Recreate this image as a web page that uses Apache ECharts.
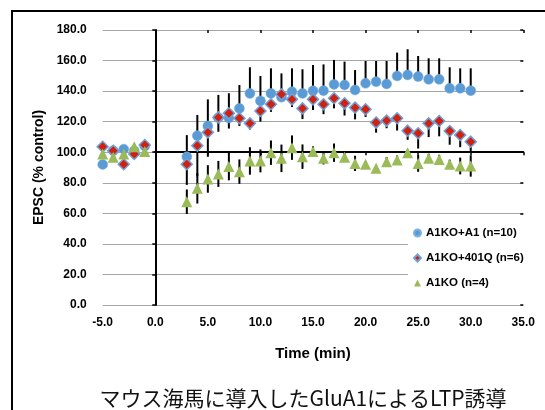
<!DOCTYPE html>
<html><head><meta charset="utf-8">
<script src="https://cdn.jsdelivr.net/npm/echarts@6/dist/echarts.min.js"></script>
<style>html,body{margin:0;padding:0;background:#fff}#c{width:545px;height:410px}</style>
</head><body><div id="c"></div>
<script>
// ---- data ----
const time = [-5,-4,-3,-2,-1,3,4,5,6,7,8,9,10,11,12,13,14,15,16,17,18,19,20,21,22,23,24,25,26,27,28,29,30];
const a1Values = [92,101,102,101,104, 97,110.8,117.2,122.6,122.4,128.7,138.5,133.6,138.5,136,139.6,138.5,140.2,140.3,144.4,144,140.7,145.1,146.2,144.7,149.9,150.6,149.5,147.7,147.7,141.8,141.8,140.3];
const a1ErrUp = [0,0,0,0,0, 14.2,13.6,17.4,14.9,16.2,15.3,17.1,16.3,16.4,15.6,15.3,15.8,16.9,17.2,16,15.3,13.1,14.6,13.5,15,15.3,16.8,13.5,13.8,13.8,13.8,13.1,14.6];
const q401Values = [103.6,101,92.1,98.8,104.7, 92.1,104.3,113,122.8,125.5,122.2,118.9,127,131.4,137.9,134.6,128.7,134.6,131.4,135.3,132,129.2,128.1,119.4,120.7,122.2,114.1,112.4,118.9,120.4,113.9,111.3,106.9];
const q401ErrDown = [0,0,0,0,0, 13.5,20,16,9.4,10,5,4,7,5,4,5,7,7,6.5,6.6,8,7.7,5,6.6,5,8,6,10,9,10,9,8,7];
const koValues = [98.8,96.7,98.8,103.6,100.4, 67.6,76.4,82.5,85.8,90.6,87.3,94.3,94.3,99.7,96,103,97.1,100.4,96,99.7,96.7,92.7,92.1,89.5,93.8,94.9,99.7,92.7,96,95.3,92.1,91,91];
const koErr = [0,0,0,0,0, 8,10,9,8.5,9,8,9,7.5,8,9,8,8,3.5,4,6,3,5,2,2,3,3,2,5.5,3,3,3,5.5,7];
const xTicks = {min:-5, max:35, interval:5};
const yTicks = {min:0, max:180, interval:20};
const seriesNames = ['A1KO+A1 (n=10)','A1KO+401Q (n=6)','A1KO (n=4)'];

// ---- layout ----
const W=545, H=410, gl=102.7, gr=21.7, gt=30, gb=105;
const plotW = W-gl-gr, plotH = H-gt-gb;
const x0px = gl + (0-xTicks.min)/(xTicks.max-xTicks.min)*plotW;
const y100px = gt + (yTicks.max-100)/(yTicks.max-yTicks.min)*plotH;

const font = '"Liberation Sans", Arial, sans-serif';
const pts = (vals) => time.map((t,i)=>[t, vals[i]]);
const errData = (lo, hi) => time.map((t,i)=>[t, lo[i], hi[i]]).filter(d=>d[2]-d[1]>0);
const a1Err = errData(a1Values, a1Values.map((v,i)=>v+a1ErrUp[i]));
const qErr = errData(q401Values.map((v,i)=>v-q401ErrDown[i]), q401Values);
const kErr = errData(koValues.map((v,i)=>v-koErr[i]), koValues.map((v,i)=>v+koErr[i]));

function errRender(params, api){
  const x=api.value(0), lo=api.value(1), hi=api.value(2);
  const p1=api.coord([x,lo]), p2=api.coord([x,hi]);
  return {type:'line', shape:{x1:p1[0],y1:p1[1],x2:p2[0],y2:p2[1]}, style:{stroke:'#000', lineWidth:2}};
}
const lineStyle = {color:'#000', width:2};
const tickStyle = {color:'#000', width:1.5};

const chart = echarts.init(document.getElementById('c'), null, {renderer:'canvas'});
chart.setOption({
  animation:false,
  backgroundColor:'#fff',
  title:{text:'マウス海馬に導入したGluA1によるLTP誘導', left:298, top:383, textAlign:'center',
    textStyle:{fontFamily:'"Noto Sans CJK JP", sans-serif', fontSize:21, fontWeight:'normal', color:'#111'}},
  graphic:[{type:'rect', shape:{x:12, y:11, width:600, height:500}, style:{fill:null, stroke:'#000', lineWidth:2}, z:-1}],
  grid:[
    {left:gl, right:gr, top:gt, bottom:gb},
    {left:x0px, right:gr, top:gt, bottom:gb},
    {left:x0px, right:gr, top:gt, bottom:H-y100px}
  ],
  xAxis:[
    {gridIndex:0, type:'value', min:xTicks.min, max:xTicks.max, interval:xTicks.interval,
      axisLine:{show:false, onZero:false}, axisTick:{show:false}, splitLine:{show:false},
      axisLabel:{margin:12, fontFamily:font, fontWeight:'bold', fontSize:12, color:'#000', formatter:v=>v.toFixed(1)},
      name:'Time (min)', nameLocation:'middle', nameGap:41,
      nameTextStyle:{fontFamily:font, fontWeight:'bold', fontSize:15, color:'#000'}},
    {gridIndex:1, type:'value', min:0, max:35, show:false},
    {gridIndex:2, type:'value', min:0, max:xTicks.max, interval:xTicks.interval,
      axisLine:{show:true, onZero:false, lineStyle:lineStyle}, axisTick:{show:true, length:3, lineStyle:tickStyle},
      axisLabel:{show:false}, splitLine:{show:false}},
    {gridIndex:2, type:'value', min:0, max:xTicks.max, interval:xTicks.interval,
      axisLine:{show:false, onZero:false}, axisTick:{show:true, inside:true, length:3, lineStyle:tickStyle},
      axisLabel:{show:false}, splitLine:{show:false}}
  ],
  yAxis:[
    {gridIndex:0, type:'value', min:yTicks.min, max:yTicks.max, interval:yTicks.interval,
      axisLine:{show:false, onZero:false}, axisTick:{show:false},
      splitLine:{show:true, lineStyle:{color:'#a6a6a6', width:1}},
      axisLabel:{margin:16, fontFamily:font, fontWeight:'bold', fontSize:12, color:'#000', formatter:v=>v.toFixed(1)},
      name:'EPSC (% control)', nameLocation:'middle', nameGap:48,
      nameTextStyle:{fontFamily:font, fontWeight:'bold', fontSize:14, color:'#000'}},
    {gridIndex:1, type:'value', min:yTicks.min, max:yTicks.max, interval:yTicks.interval,
      axisLine:{show:true, onZero:false, lineStyle:lineStyle}, axisTick:{show:true, length:3, lineStyle:tickStyle},
      axisLabel:{show:false}, splitLine:{show:false}},
    {gridIndex:1, type:'value', min:yTicks.min, max:yTicks.max, interval:yTicks.interval,
      axisLine:{show:false, onZero:false}, axisTick:{show:true, inside:true, length:3, lineStyle:tickStyle},
      axisLabel:{show:false}, splitLine:{show:false}},
    {gridIndex:2, type:'value', min:0, max:1, show:false}
  ],
  legend:{
    orient:'vertical', left:408, top:222, padding:[4,10,4,5], backgroundColor:'#fff',
    itemWidth:7, itemHeight:7, itemGap:11,
    textStyle:{fontFamily:font, fontWeight:'bold', fontSize:11.5, color:'#000', lineHeight:14},
    data:[{name:seriesNames[0], icon:'circle'},{name:seriesNames[1], icon:'diamond'},{name:seriesNames[2], icon:'triangle'}]
  },
  series:[
    {type:'custom', xAxisIndex:0, yAxisIndex:0, renderItem:errRender, data:a1Err, z:2, silent:true},
    {type:'custom', xAxisIndex:0, yAxisIndex:0, renderItem:errRender, data:qErr, z:2, silent:true},
    {type:'custom', xAxisIndex:0, yAxisIndex:0, renderItem:errRender, data:kErr, z:2, silent:true},
    {name:seriesNames[0], type:'scatter', symbol:'circle', symbolSize:10, data:pts(a1Values), z:3,
      itemStyle:{color:'#5B9BD5', borderColor:'#7FB0E0', borderWidth:0.5, opacity:1}},
    {name:seriesNames[1], type:'scatter', symbol:'diamond', symbolSize:11, data:pts(q401Values), z:4,
      itemStyle:{color:'#D2200E', borderColor:'#6FA0D8', borderWidth:1.5, opacity:1}},
    {name:seriesNames[2], type:'scatter', symbol:'triangle', symbolSize:11, data:pts(koValues), z:5,
      itemStyle:{color:'#9BBB59', opacity:1}}
  ]
});
</script></body></html>
